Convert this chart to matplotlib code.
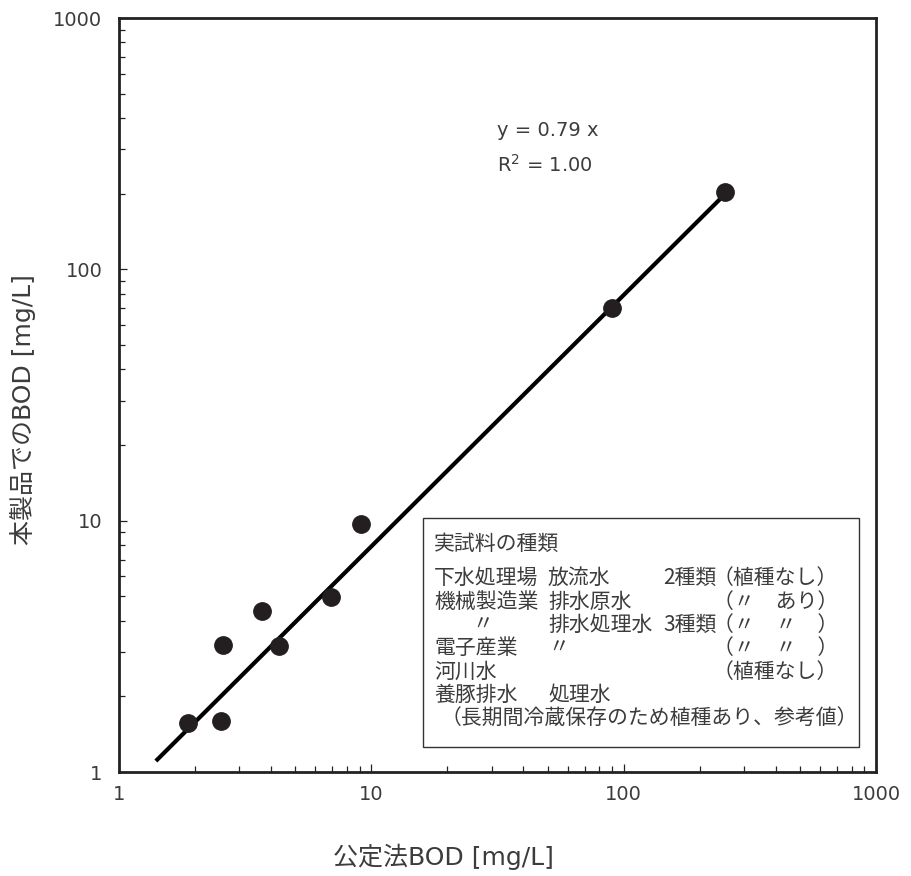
import matplotlib
matplotlib.use("Agg")
import matplotlib.pyplot as plt
import numpy as np

plt.rcParams["font.family"] = ["DejaVu Sans", "Noto Sans CJK JP"]

# ===== DATA =====
x_official = [1.88, 2.53, 2.59, 3.68, 4.31, 6.90, 9.08, 89.9, 252.0]
y_product = [1.57, 1.59, 3.20, 4.37, 3.18, 4.96, 9.70, 70.2, 203.0]
slope = 0.79
fit_range = [1.4, 250.0]
tick_vals = [1, 10, 100, 1000]
tick_labels = ["1", "10", "100", "1000"]

legend_title = "実試料の種類"
legend_col1 = ["下水処理場", "機械製造業", "", "電子産業", "河川水", "養豚排水"]
legend_col1b = ["", "", "〃", "", "", ""]
legend_col2 = ["放流水", "排水原水", "排水処理水", "〃", "", "処理水"]
legend_col3 = ["2種類", "", "3種類", "", "", ""]
legend_col4 = ["（植種なし）", "（〃　あり）", "（〃　〃　）", "（〃　〃　）", "（植種なし）", ""]
legend_note = "（長期間冷蔵保存のため植種あり、参考値）"

TEXT = "#3c3c3c"
JP = ["Noto Sans CJK JP", "DejaVu Sans"]

# ===== FIGURE =====
W, H = 911, 876
fig = plt.figure(figsize=(W / 100, H / 100), dpi=100)
ax = fig.add_axes([119 / W, 1 - 772 / H, (876 - 119) / W, (772 - 18) / H])

xf = np.array(fit_range)
ax.plot(xf, slope * xf, color="black", lw=3.0, solid_capstyle="butt", zorder=2)
ax.plot(x_official, y_product, "o", color="#231f20", ms=12.5, zorder=3)

ax.set_xscale("log")
ax.set_yscale("log")
ax.set_xlim(1, 1000)
ax.set_ylim(1, 1000)
ax.set_xticks(tick_vals)
ax.set_xticklabels(tick_labels)
ax.set_yticks(tick_vals)
ax.set_yticklabels(tick_labels)
ax.tick_params(which="both", direction="in", width=0.9, color="#222222",
               top=False, right=False, labelsize=14, labelcolor=TEXT)
ax.tick_params(which="major", length=5.5)
ax.tick_params(which="minor", length=4)
ax.tick_params(axis="x", pad=9)
ax.tick_params(axis="y", pad=12)
for s in ax.spines.values():
    s.set_linewidth(2)
    s.set_color("#222222")

# axis titles
fig.text(443 / W, 1 - 857 / H, "公定法BOD [mg/L]", fontsize=18, color=TEXT,
         ha="center", va="center")
fig.text(23 / W, 1 - 410 / H, "本製品でのBOD [mg/L]", fontsize=18, color=TEXT,
         ha="center", va="center", rotation=90)

# regression annotation
fig.text(497 / W, 1 - 131 / H, "y = 0.79 x", fontsize=14, color=TEXT, va="center")
fig.text(497 / W, 1 - 165 / H, r"R$^2$ = 1.00", fontsize=14, color=TEXT, va="center")

# legend box
box = plt.Rectangle((423 / W, 1 - 747 / H), (859 - 423) / W, (747 - 518) / H,
                    transform=fig.transFigure, fill=False, lw=1, ec="#333333")
fig.add_artist(box)
fs = 15
fig.text(434 / W, 1 - 544 / H, legend_title, fontsize=fs, color=TEXT, va="center", family=JP)
row_y = [578, 602, 625, 648, 672, 695]
for i, yy in enumerate(row_y):
    yf = 1 - yy / H
    fig.text(434 / W, yf, legend_col1[i], fontsize=fs, color=TEXT, va="center", family=JP)
    fig.text(472 / W, yf, legend_col1b[i], fontsize=fs, color=TEXT, va="center", family=JP)
    fig.text(548 / W, yf, legend_col2[i], fontsize=fs, color=TEXT, va="center", family=JP)
    fig.text(663 / W, yf, legend_col3[i], fontsize=fs, color=TEXT, va="center", family=JP)
    fig.text(713 / W, yf, legend_col4[i], fontsize=fs, color=TEXT, va="center", family=JP)
fig.text(441 / W, 1 - 719 / H, legend_note, fontsize=fs, color=TEXT, va="center", family=JP)

fig.savefig("out.png", dpi=100)
